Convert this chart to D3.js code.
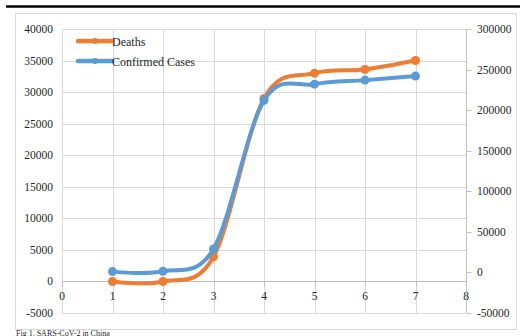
<!DOCTYPE html>
<html>
<head>
<meta charset="utf-8">
<script src="https://cdn.jsdelivr.net/npm/d3@7/dist/d3.min.js"></script>
<style>
  html, body { margin: 0; padding: 0; background: #fff; }
  svg { display: block; }
  text { font-family: "Liberation Serif", "DejaVu Serif", serif; fill: #262626; }
</style>
</head>
<body>
<svg id="chart" width="526" height="336"></svg>
<script>
// Day index along the x axis
const days = [1, 2, 3, 4, 5, 6, 7];
// Cumulative deaths (left axis)
const deaths = [0, 0, 3900, 29000, 33000, 33600, 35000];
// Cumulative confirmed cases (right axis)
const confirmed = [1000, 1400, 29000, 212000, 232000, 237000, 242000];

const xTicks = [0, 1, 2, 3, 4, 5, 6, 7, 8];
const leftTicks = [-5000, 0, 5000, 10000, 15000, 20000, 25000, 30000, 35000, 40000];
const rightTicks = [-50000, 0, 50000, 100000, 150000, 200000, 250000, 300000];

const seriesNames = ["Deaths", "Confirmed Cases"];
const colors = ["#ED7D31", "#5B9BD5"];
const caption = "Fig 1. SARS-CoV-2 in China";

const svg = d3.select("#chart");
const plot = { left: 62, right: 466, top: 29, bottom: 313 };

const x = d3.scaleLinear().domain([0, 8]).range([plot.left, plot.right]);
const yL = d3.scaleLinear().domain([-5000, 40000]).range([plot.bottom, plot.top]);
const yR = d3.scaleLinear().domain([-50000, 300000]).range([plot.bottom, plot.top]);

// top rule
svg.append("line").attr("x1", 6).attr("x2", 520).attr("y1", 6.5).attr("y2", 6.5)
  .attr("stroke", "#000").attr("stroke-width", 2.5);

// chart frame
svg.append("rect").attr("x", 15.5).attr("y", 13.5).attr("width", 501).attr("height", 316)
  .attr("fill", "#fff").attr("stroke", "#d9d9d9").attr("stroke-width", 1);

// horizontal gridlines
svg.append("g").selectAll("line").data(leftTicks).join("line")
  .attr("x1", plot.left).attr("x2", plot.right)
  .attr("y1", d => Math.round(yL(d)) + 0.5).attr("y2", d => Math.round(yL(d)) + 0.5)
  .attr("stroke", "#d9d9d9").attr("stroke-width", 1);

// vertical gridlines
svg.append("g").selectAll("line").data(xTicks).join("line")
  .attr("x1", d => Math.round(x(d)) + 0.5).attr("x2", d => Math.round(x(d)) + 0.5)
  .attr("y1", plot.top).attr("y2", plot.bottom)
  .attr("stroke", "#d9d9d9").attr("stroke-width", 1);

// x axis along zero
const y0 = Math.round(yL(0)) + 0.5;
svg.append("line").attr("x1", plot.left).attr("x2", plot.right).attr("y1", y0).attr("y2", y0)
  .attr("stroke", "#bfbfbf").attr("stroke-width", 1.2);
svg.append("g").selectAll("line").data(xTicks).join("line")
  .attr("x1", d => Math.round(x(d)) + 0.5).attr("x2", d => Math.round(x(d)) + 0.5)
  .attr("y1", y0).attr("y2", y0 + 5)
  .attr("stroke", "#bfbfbf");
svg.append("g").selectAll("text").data(xTicks).join("text")
  .attr("x", d => x(d)).attr("y", y0 + 18)
  .attr("text-anchor", "middle").attr("font-size", 11.5)
  .text(d => d);

// left axis labels
svg.append("g").selectAll("text").data(leftTicks).join("text")
  .attr("x", 53).attr("y", d => yL(d) + 4)
  .attr("text-anchor", "end").attr("font-size", 11.5)
  .text(d => d);

// right axis with outward ticks
const rx = plot.right + 0.5;
svg.append("line").attr("x1", rx).attr("x2", rx).attr("y1", plot.top).attr("y2", plot.bottom)
  .attr("stroke", "#bfbfbf");
svg.append("g").selectAll("line").data(rightTicks).join("line")
  .attr("x1", rx).attr("x2", rx + 5)
  .attr("y1", d => Math.round(yR(d)) + 0.5).attr("y2", d => Math.round(yR(d)) + 0.5)
  .attr("stroke", "#bfbfbf");
svg.append("g").selectAll("text").data(rightTicks).join("text")
  .attr("x", 477).attr("y", d => yR(d) + 4)
  .attr("text-anchor", "start").attr("font-size", 11.5)
  .text(d => d);

// series
const series = [
  { name: seriesNames[0], values: deaths, y: yL, color: colors[0] },
  { name: seriesNames[1], values: confirmed, y: yR, color: colors[1] }
];

series.forEach(s => {
  const pts = days.map((d, i) => [x(d), s.y(s.values[i])]);
  const line = d3.line().curve(d3.curveCardinal.tension(0));
  svg.append("path").attr("d", line(pts))
    .attr("fill", "none").attr("stroke", s.color).attr("stroke-width", 4)
    .attr("stroke-linecap", "round").attr("stroke-linejoin", "round");
  svg.append("g").selectAll("circle").data(pts).join("circle")
    .attr("cx", p => p[0]).attr("cy", p => p[1]).attr("r", 4.5)
    .attr("fill", s.color);
});

// legend
series.forEach((s, i) => {
  const ly = 41 + i * 20;
  svg.append("line").attr("x1", 78).attr("x2", 112).attr("y1", ly).attr("y2", ly)
    .attr("stroke", s.color).attr("stroke-width", 4.5).attr("stroke-linecap", "round");
  svg.append("circle").attr("cx", 95).attr("cy", ly).attr("r", 3).attr("fill", s.color);
  svg.append("text").attr("x", 112).attr("y", ly + 4.5).attr("font-size", 12).text(s.name);
});

// caption below the frame
svg.append("text").attr("x", 16).attr("y", 335.5).attr("font-size", 8).text(caption);
</script>
</body>
</html>
